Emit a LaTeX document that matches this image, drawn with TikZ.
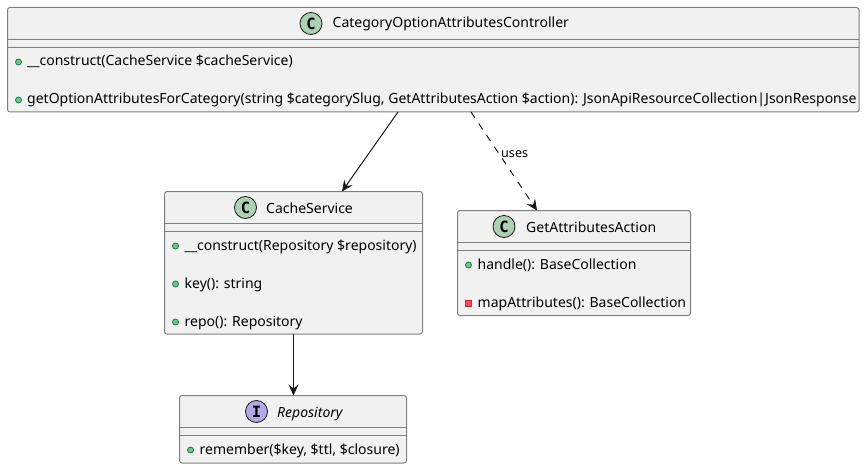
\documentclass[tikz,border=0pt]{standalone}
\usepackage{fontspec}
\setmainfont{Noto Sans}
\newfontfamily\glyphfont{DejaVu Sans Mono}
\usetikzlibrary{arrows.meta}
\definecolor{boxfill}{HTML}{F1F1F1}
\definecolor{boxline}{HTML}{7F7F7F}
\definecolor{ink}{HTML}{181818}
\definecolor{classc}{HTML}{ADD1B2}
\definecolor{ifacec}{HTML}{B4A7E5}
\definecolor{pubfill}{HTML}{84BE84}
\definecolor{publine}{HTML}{038048}
\definecolor{privfill}{HTML}{F24D5C}
\definecolor{privline}{HTML}{C82930}
\tikzset{
  x=1pt,y=-1pt,
  box/.style={draw=boxline,fill=boxfill,line width=1pt,rounded corners=2.5pt,anchor=north west,inner sep=0pt,outer sep=0pt},
  sepline/.style={draw=boxline,line width=1pt},
  spot/.style={circle,draw=ink,line width=0.8pt,minimum size=22pt,inner sep=0pt,font=\glyphfont\bfseries\fontsize{15.5}{16}\selectfont},
  title/.style={anchor=base west,inner sep=0pt,font=\fontsize{14}{16}\selectfont},
  member/.style={anchor=base west,inner sep=0pt,font=\fontsize{14}{16}\selectfont},
  pubmark/.style={circle,draw=publine,fill=pubfill,line width=0.8pt,minimum size=6pt,inner sep=0pt},
  privmark/.style={rectangle,draw=privline,fill=privfill,line width=0.8pt,minimum size=6pt,inner sep=0pt},
  conn/.style={draw=ink,line width=1pt,-{Stealth[length=11pt,width=10pt,inset=4pt]}},
  edgelabel/.style={anchor=base west,inner sep=0pt,font=\fontsize{12.6}{14}\selectfont}
}
\begin{document}
\begin{tikzpicture}
\useasboundingbox (0,0) rectangle (867,468);
% main class
\node[box,minimum width=851.5pt,minimum height=104.5pt] (main) at (7.5,7.5) {};
\draw[sepline] ([yshift=-32pt]main.north west) -- ([yshift=-32pt]main.north east);
\draw[sepline] ([yshift=-40pt]main.north west) -- ([yshift=-40pt]main.north east);
\node[spot,fill=classc] (mainspot) at (311,23.5) {C};
\node[title] (maintitle) at (332.5,28) {CategoryOptionAttributesController};
\node[pubmark] (mm1) at (18.5,62) {};
\node[member] (mt1) at (27,66) {\_\_construct(CacheService \$cacheService)};
\node[pubmark] (mm2) at (18.5,100) {};
\node[member] (mt2) at (27,104) {getOptionAttributesForCategory(string \$categorySlug, GetAttributesAction \$action): JsonApiResourceCollection|JsonResponse};
% cache service
\node[box,minimum width=258pt,minimum height=142.5pt] (cache) at (164.5,191.5) {};
\draw[sepline] ([yshift=-32pt]cache.north west) -- ([yshift=-32pt]cache.north east);
\draw[sepline] ([yshift=-40pt]cache.north west) -- ([yshift=-40pt]cache.north east);
\node[spot,fill=classc] (cachespot) at (245.5,207.5) {C};
\node[title] (cachetitle) at (266,213) {CacheService};
\node[pubmark] (cm1) at (175.5,246) {};
\node[member] (ct1) at (184.5,250) {\_\_construct(Repository \$repository)};
\node[pubmark] (cm2) at (175.5,284) {};
\node[member] (ct2) at (184.5,288) {key(): string};
\node[pubmark] (cm3) at (175.5,322) {};
\node[member] (ct3) at (184.5,326) {repo(): Repository};
% repository
\node[box,minimum width=227pt,minimum height=67.5pt] (repo) at (179.5,395.5) {};
\draw[sepline] ([yshift=-32pt]repo.north west) -- ([yshift=-32pt]repo.north east);
\draw[sepline] ([yshift=-40pt]repo.north west) -- ([yshift=-40pt]repo.north east);
\node[spot,fill=ifacec] (repospot) at (256.5,411.5) {I};
\node[title,font=\itshape\fontsize{14}{16}\selectfont] (repotitle) at (277,417) {Repository};
\node[pubmark] (rm1) at (190.5,450) {};
\node[member] (rt1) at (199.5,454) {remember(\$key, \$ttl, \$closure)};
% get attributes action
\node[box,minimum width=233pt,minimum height=105pt] (action) at (457.5,210.5) {};
\draw[sepline] ([yshift=-32pt]action.north west) -- ([yshift=-32pt]action.north east);
\draw[sepline] ([yshift=-40pt]action.north west) -- ([yshift=-40pt]action.north east);
\node[spot,fill=classc] (actionspot) at (504,226.5) {C};
\node[title] (actiontitle) at (526,232) {GetAttributesAction};
\node[pubmark] (am1) at (468.5,265) {};
\node[member] (at1) at (477.5,269) {handle(): BaseCollection};
\node[privmark] (am2) at (468.5,303) {};
\node[member] (at2) at (477.5,307) {mapAttributes(): BaseCollection};
% connectors
\coordinate (mainA) at ([xshift=-35.25pt]main.south);
\coordinate (cacheA) at ([xshift=48.5pt]cache.north);
\coordinate (mainB) at ([xshift=37.75pt]main.south);
\coordinate (actionB) at ([xshift=-37pt]action.north);
\coordinate (cacheC) at (cache.south);
\coordinate (repoC) at ([xshift=0.5pt]repo.north);
\draw[conn] (mainA) -- (cacheA);
\draw[conn,dash pattern=on 7pt off 7pt] (mainB) -- (actionB);
\draw[conn] (cacheC) -- (repoC);
\node[edgelabel] (useslabel) at (501,157.5) {uses};
\end{tikzpicture}
\end{document}
